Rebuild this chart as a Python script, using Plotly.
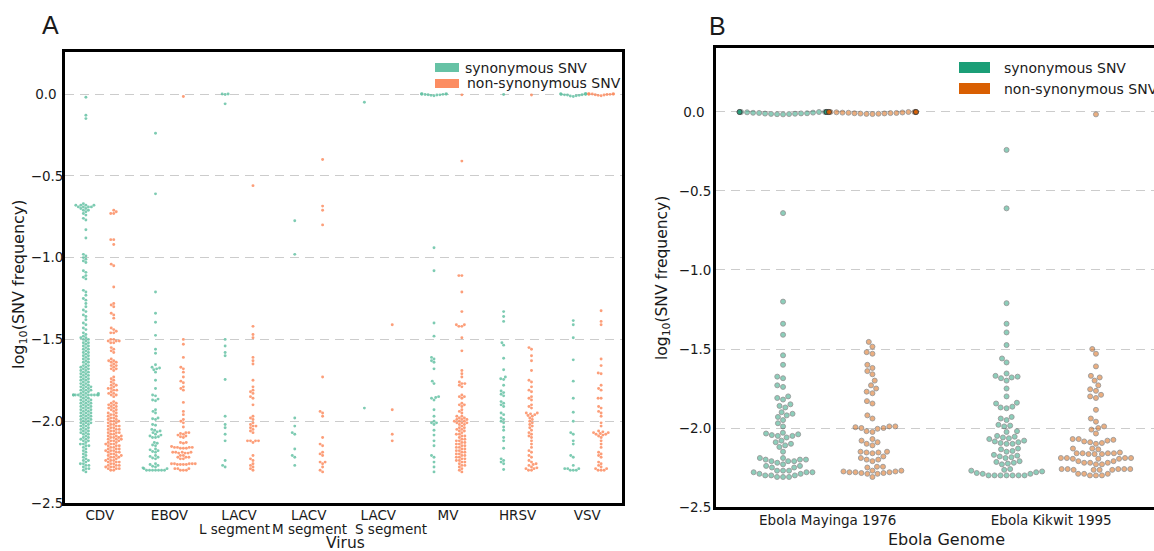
import numpy as np
import plotly.graph_objects as go

# ---------------- data (log10 SNV frequency) ----------------
virus_labels = ["CDV", "EBOV", "LACV", "LACV", "LACV", "MV", "HRSV", "VSV"]
segment_labels = ["L segment", "M segment", "S segment"]
ebola_labels = ["Ebola Mayinga 1976", "Ebola Kikwit 1995"]
ytick_vals = [0.0, -0.5, -1.0, -1.5, -2.0, -2.5]
ytick_text = ["0.0\u2002", "\u22120.5", "\u22121.0", "\u22121.5", "\u22122.0", "\u22122.5"]

cdv_syn = [
    -0.02, -0.13, -0.15,
    -0.67, -0.68, -0.68, -0.68, -0.68, -0.69, -0.69, -0.69, -0.69, -0.70, -0.70, -0.71, -0.71, -0.72, -0.73, -0.74,
    -0.76, -0.77, -0.83, -0.88,
    -0.98, -0.99, -1.00, -1.01, -1.02, -1.03, -1.08, -1.09, -1.11, -1.12, -1.13,
    -1.20, -1.21, -1.23, -1.25, -1.26, -1.28, -1.30, -1.32, -1.33, -1.35, -1.36, -1.38, -1.40, -1.41, -1.43, -1.44,
    -1.46, -1.47, -1.48, -1.49, -1.49, -1.50, -1.50,
    -1.51, -1.52, -1.52, -1.53, -1.54, -1.54, -1.55, -1.56, -1.56, -1.57,
    -1.58, -1.58, -1.59, -1.60, -1.60, -1.61, -1.62, -1.62, -1.63, -1.64, -1.64, -1.65, -1.66, -1.66, -1.67, -1.67,
    -1.68, -1.68, -1.69, -1.69, -1.70, -1.70, -1.71, -1.71, -1.72, -1.72, -1.73, -1.73, -1.74, -1.74, -1.75, -1.75,
    -1.76, -1.76, -1.77, -1.77,
    -1.78, -1.78, -1.79, -1.79, -1.79, -1.80, -1.80, -1.81, -1.81, -1.81, -1.82, -1.82, -1.83, -1.83, -1.83,
    -1.84, -1.84, -1.84, -1.84, -1.84, -1.84, -1.84, -1.84, -1.84, -1.84,
    -1.85, -1.85, -1.86, -1.86, -1.87, -1.87, -1.87, -1.88, -1.88, -1.89, -1.89, -1.89, -1.90, -1.90,
    -1.91, -1.91, -1.91, -1.92, -1.92, -1.93, -1.93, -1.93, -1.94, -1.94, -1.95, -1.95, -1.95, -1.96, -1.96,
    -1.97, -1.97, -1.97, -1.98, -1.98, -1.99, -1.99, -1.99, -2.00, -2.00, -2.01, -2.01, -2.01, -2.02, -2.02,
    -2.03, -2.03, -2.04, -2.04,
    -2.05, -2.05, -2.06, -2.06, -2.07, -2.07, -2.08, -2.08, -2.09, -2.10, -2.10, -2.11, -2.11, -2.12, -2.12,
    -2.13, -2.14, -2.14, -2.15, -2.15,
    -2.16, -2.17, -2.18, -2.19, -2.20, -2.21, -2.22, -2.23,
    -2.24, -2.24, -2.25, -2.26, -2.26, -2.27, -2.27, -2.28, -2.29, -2.29, -2.30, -2.31,
]
cdv_non = [
    -0.71, -0.72, -0.73, -0.73, -0.89, -0.89, -0.92, -1.04, -1.05, -1.18, -1.28, -1.29, -1.30, -1.34, -1.35, -1.37,
    -1.43, -1.44, -1.45, -1.46, -1.46, -1.50, -1.50, -1.51, -1.51, -1.51, -1.52, -1.52, -1.55, -1.56, -1.57, -1.58,
    -1.62, -1.63, -1.63, -1.64, -1.64, -1.65, -1.66, -1.66, -1.67, -1.68, -1.68, -1.69,
    -1.73, -1.74, -1.75, -1.76, -1.77, -1.78, -1.78, -1.79, -1.80, -1.80, -1.81, -1.81, -1.82, -1.83, -1.83,
    -1.84, -1.84, -1.85,
    -1.88, -1.89, -1.89, -1.90, -1.90, -1.91, -1.91, -1.92, -1.92, -1.93, -1.93,
    -1.94, -1.95, -1.95, -1.96, -1.96, -1.97, -1.97, -1.98, -1.98, -1.99, -1.99, -2.00, -2.00, -2.00, -2.01, -2.01,
    -2.02, -2.02, -2.03, -2.03, -2.03, -2.04, -2.04, -2.05, -2.05, -2.05, -2.06, -2.06, -2.07, -2.07, -2.07,
    -2.08, -2.08, -2.09, -2.09, -2.09, -2.10, -2.10, -2.10,
    -2.11, -2.11, -2.11, -2.12, -2.12, -2.12, -2.13, -2.13, -2.14, -2.14, -2.14, -2.15, -2.15, -2.15, -2.16, -2.16,
    -2.17, -2.17, -2.17, -2.18, -2.18, -2.18,
    -2.19, -2.19, -2.19, -2.20, -2.20, -2.21, -2.21, -2.21, -2.22, -2.22, -2.22, -2.23, -2.23, -2.24, -2.24, -2.24,
    -2.25, -2.25, -2.25, -2.26, -2.26, -2.27, -2.27, -2.27, -2.28, -2.28, -2.28, -2.29, -2.29, -2.29, -2.30, -2.30,
]
# Ebola Kikwit 1995 (shown as EBOV in panel A)
kikwit_syn = [
    -0.24, -0.61, -1.21, -1.34, -1.395, -1.475, -1.56, -1.585, -1.655, -1.67, -1.675, -1.68, -1.685, -1.70,
    -1.75, -1.80, -1.84, -1.845, -1.865, -1.87, -1.875, -1.93, -1.94, -1.95, -1.98, -1.985, -1.99, -2.02, -2.025,
    -2.05, -2.055, -2.06, -2.065, -2.07, -2.08, -2.085, -2.09, -2.095, -2.10, -2.10,
    -2.13, -2.135, -2.145, -2.15, -2.17, -2.175, -2.18, -2.185, -2.19,
    -2.21, -2.215, -2.22, -2.225, -2.23, -2.26, -2.265, -2.27, -2.275, -2.28, -2.285, -2.29, -2.29,
    -2.30, -2.30, -2.30, -2.30, -2.30, -2.30, -2.30,
]
kikwit_non = [
    -0.015, -1.50, -1.53, -1.61, -1.67, -1.68, -1.70, -1.73, -1.755, -1.765, -1.79, -1.80, -1.81, -1.885,
    -1.94, -1.96, -1.99, -2.00, -2.01, -2.035,
    -2.07, -2.07, -2.075, -2.08, -2.085, -2.09, -2.095, -2.10, -2.13, -2.13, -2.135,
    -2.155, -2.16, -2.16, -2.16, -2.16, -2.165, -2.165, -2.165,
    -2.19, -2.19, -2.19, -2.19, -2.195, -2.195, -2.195,
    -2.21, -2.21, -2.22, -2.22, -2.22, -2.23, -2.23,
    -2.26, -2.26, -2.26, -2.26, -2.26, -2.265, -2.265, -2.265, -2.265,
    -2.29, -2.29, -2.29, -2.30, -2.30, -2.30,
]
lacvl_syn = [0.0, 0.0, -0.003, -0.06, -1.50, -1.54, -1.58, -1.60, -1.745, -1.97, -2.02, -2.04, -2.08, -2.12,
             -2.24, -2.27, -2.28]
lacvl_non = [-0.56, -1.42, -1.47, -1.49, -1.61, -1.63, -1.65, -1.75, -1.79, -1.81, -1.82, -1.83, -1.85, -1.86,
             -1.90, -1.97, -1.98, -1.99, -2.01, -2.02, -2.03, -2.03, -2.04, -2.05, -2.06, -2.07,
             -2.12, -2.12, -2.12, -2.12, -2.13, -2.21, -2.23, -2.24, -2.26, -2.27, -2.28, -2.29, -2.30]
lacvm_syn = [-0.775, -0.98, -1.98, -2.03, -2.07, -2.08, -2.17, -2.21, -2.22, -2.27]
lacvm_non = [-0.40, -0.685, -0.71, -0.80, -1.73, -1.94, -1.95, -1.97, -2.10, -2.14, -2.15, -2.19, -2.20, -2.21,
             -2.25, -2.25, -2.26, -2.28, -2.30, -2.31]
lacvs_syn = [-0.05, -1.92]
lacvs_non = [-1.41, -1.93, -2.08, -2.12]
mv_syn = [0.0, 0.0, 0.0, 0.0, 0.0, -0.002, -0.003, -0.004, -0.005, -0.006, -0.008, -0.01,
          -0.94, -1.08, -1.40, -1.48, -1.61, -1.62, -1.63, -1.64, -1.68, -1.755, -1.77, -1.85, -1.855, -1.86,
          -1.87, -1.93, -1.97, -2.00, -2.01, -2.01, -2.02, -2.055, -2.085, -2.12, -2.15, -2.21, -2.22, -2.25,
          -2.28, -2.31]
mv_non = [
    -0.005, -0.41, -1.11, -1.11, -1.21, -1.33, -1.41, -1.41, -1.42, -1.42, -1.49, -1.57, -1.69, -1.71, -1.73,
    -1.76, -1.77, -1.77, -1.78, -1.79, -1.84, -1.85, -1.85, -1.86, -1.89, -1.90, -1.90, -1.91, -1.93, -1.94, -1.95,
    -1.97, -1.97, -1.98, -1.98, -1.99, -1.99, -1.99, -2.00, -2.00, -2.00, -2.01, -2.01, -2.01, -2.02, -2.02,
    -2.03, -2.04, -2.04, -2.05, -2.05, -2.06, -2.06, -2.07,
    -2.08, -2.08, -2.09, -2.09, -2.10, -2.11, -2.11, -2.12, -2.12, -2.13, -2.13, -2.14, -2.14, -2.15, -2.15,
    -2.16, -2.16, -2.17, -2.17, -2.18, -2.18,
    -2.19, -2.19, -2.20, -2.20, -2.21, -2.21, -2.22, -2.22, -2.23, -2.23, -2.24, -2.24, -2.25, -2.25,
    -2.26, -2.27, -2.27, -2.28, -2.29, -2.30, -2.31,
]
hrsv_syn = [-0.003, -1.33, -1.36, -1.39, -1.52, -1.535, -1.615, -1.685, -1.73, -1.74, -1.745, -1.78, -1.815,
            -1.825, -1.835, -1.845, -1.88, -1.89, -1.90, -1.91, -1.95, -1.96, -1.98, -1.99, -2.00, -2.01, -2.035,
            -2.055, -2.10, -2.12, -2.165, -2.23, -2.24, -2.25, -2.26, -2.295]
hrsv_non = [-0.006, -1.55, -1.56, -1.60, -1.63, -1.69, -1.75, -1.76, -1.79, -1.81, -1.82, -1.85, -1.86, -1.87,
            -1.90, -1.91, -1.92, -1.95, -1.95, -1.955, -1.96, -1.965, -1.97, -1.98,
            -1.99, -2.00, -2.01, -2.02, -2.03, -2.04, -2.055, -2.07, -2.08, -2.09, -2.10,
            -2.12, -2.14, -2.16, -2.18, -2.19, -2.21, -2.22,
            -2.24, -2.25, -2.26, -2.265, -2.27, -2.28, -2.285, -2.29, -2.29, -2.30, -2.30]
vsv_syn = [0.0, 0.0, 0.0, 0.0, 0.0, 0.0, -0.002, -0.004, -0.005, -0.006, -0.008, -0.01, -0.012, -0.015,
           -1.385, -1.41, -1.49, -1.625, -1.755, -1.86, -1.945, -2.00, -2.07, -2.08, -2.12, -2.14, -2.21, -2.22,
           -2.27, -2.29, -2.29, -2.29, -2.30, -2.30, -2.30]
vsv_non = [0.0, 0.0, 0.0, 0.0, 0.0, 0.0, -0.002, -0.003, -0.004, -0.006, -0.008, -0.01,
           -1.325, -1.39, -1.41, -1.62, -1.66, -1.705, -1.71, -1.78, -1.80, -1.81, -1.86, -1.86, -1.91, -1.92,
           -1.94, -1.95, -1.97, -2.01, -2.03, -2.06, -2.065, -2.07, -2.07, -2.075, -2.08, -2.08, -2.085, -2.09,
           -2.10, -2.12, -2.14, -2.16, -2.19, -2.20, -2.21, -2.22, -2.25, -2.26, -2.27, -2.28, -2.29, -2.29,
           -2.30, -2.30, -2.30]
# Ebola Mayinga 1976 (panel B only)
mayinga_syn = [
    0.0, 0.0, 0.0, 0.0, 0.0, 0.0, 0.0, 0.0, 0.0, 0.0, -0.002, -0.004, -0.005, -0.006, -0.008, -0.009, -0.01,
    -0.011, -0.012, -0.013, -0.014, -0.015,
    -0.64, -1.20, -1.34, -1.41, -1.54, -1.60, -1.675, -1.685, -1.73, -1.74, -1.80, -1.81, -1.82, -1.85, -1.86,
    -1.87, -1.90, -1.91, -1.92, -1.93, -1.95, -1.97, -1.99, -2.03, -2.035, -2.04, -2.045, -2.05, -2.05, -2.06,
    -2.08, -2.09, -2.10, -2.11, -2.12, -2.15, -2.19, -2.19, -2.20, -2.20, -2.20, -2.21, -2.21, -2.21, -2.22,
    -2.23, -2.24, -2.24, -2.25, -2.25, -2.27, -2.27, -2.27, -2.28, -2.28, -2.28, -2.29, -2.29, -2.30, -2.30,
    -2.30, -2.31, -2.31, -2.31,
]
mayinga_non = [
    0.0, 0.0, 0.0, 0.0, 0.0, 0.0, 0.0, 0.0, 0.0, 0.0, -0.002, -0.003, -0.004, -0.005, -0.006, -0.007, -0.008,
    -0.009, -0.01, -0.011, -0.012, -0.013,
    -1.455, -1.485, -1.52, -1.53, -1.60, -1.62, -1.64, -1.66, -1.70, -1.73, -1.75, -1.77, -1.78, -1.83, -1.845,
    -1.92, -1.94, -1.99, -1.99, -1.995, -2.00, -2.00, -2.005, -2.02, -2.025, -2.07, -2.08, -2.09, -2.10, -2.11,
    -2.15, -2.15, -2.155, -2.155, -2.16, -2.18, -2.19, -2.20, -2.20, -2.21, -2.245, -2.245, -2.25,
    -2.27, -2.27, -2.275, -2.275, -2.28, -2.28, -2.28, -2.285, -2.285, -2.29, -2.29, -2.31,
]

groups_a = [(cdv_syn, cdv_non), (kikwit_syn, kikwit_non), (lacvl_syn, lacvl_non), (lacvm_syn, lacvm_non),
            (lacvs_syn, lacvs_non), (mv_syn, mv_non), (hrsv_syn, hrsv_non), (vsv_syn, vsv_non)]
groups_b = [(mayinga_syn, mayinga_non), (kikwit_syn, kikwit_non)]

# ---------------- geometry ----------------
W, H = 1154, 551
A_X0, A_X1, A_Y0, A_Y1 = 65, 622, 52, 503      # plot box A (px)
B_X0, B_Y0, B_Y1 = 716, 48, 507                # plot box B (px)
A_YR = [-2.5, 0.257]
B_YR = [-2.5, 0.405]
A_PXX = (A_X1 - A_X0) / 8.0
A_PXY = (A_Y1 - A_Y0) / (A_YR[1] - A_YR[0])
B_PXX = 223.5
B_XR = [-0.5, -0.5 + (W - B_X0) / B_PXX]
B_PXY = (B_Y1 - B_Y0) / (B_YR[1] - B_YR[0])


def swarm(vals, pxy, d, half):
    """beeswarm offsets (px) for values, seaborn-like placement with gutters"""
    v = np.asarray(vals, float)
    order = np.argsort(v, kind="stable")
    ys = v[order] * pxy
    px, py = [], []
    for y in ys:
        ax = np.array(px); ay = np.array(py)
        if len(ax):
            m = np.abs(ay - y) < d
            nx, ny = ax[m], ay[m]
        else:
            nx = ny = np.array([])
        cands = [0.0]
        if len(nx):
            dx = np.sqrt(np.maximum(d * d - (ny - y) ** 2, 0)) * 1.001
            cands += list(nx - dx) + list(nx + dx)
        cands = sorted(cands, key=abs)
        chosen = cands[-1]
        for c in cands:
            if len(nx) == 0 or np.all((nx - c) ** 2 + (ny - y) ** 2 >= d * d * 0.998):
                chosen = c
                break
        px.append(chosen); py.append(y)
    out = np.zeros(len(v))
    out[order] = np.clip(np.array(px), -half, half)
    return out


def build(groups, pxx, pxy, d, half):
    xs = [[], []]; ys = [[], []]
    for i, pair in enumerate(groups):
        for h, vals in enumerate(pair):
            off = swarm(vals, pxy, d, half) / pxx
            xs[h].extend(list(i + (-0.2 if h == 0 else 0.2) + off))
            ys[h].extend(list(vals))
    return xs, ys


ax_, ay_ = build(groups_a, A_PXX, A_PXY, 3.0, 12.5)
bx_, by_ = build(groups_b, B_PXX, B_PXY, 6.0, 43.5)

FONT = "DejaVu Sans"
TXT = "#1a1a1a"
fig = go.Figure()
for h, col in enumerate(["#66c2a5", "#fc8d62"]):
    fig.add_trace(go.Scatter(x=ax_[h], y=ay_[h], mode="markers", xaxis="x", yaxis="y", showlegend=False,
                             hoverinfo="skip",
                             marker=dict(size=2.9, color=col, opacity=0.85, line=dict(width=0))))
for h, col in enumerate(["#1b9e77", "#d95f02"]):
    fig.add_trace(go.Scatter(x=bx_[h], y=by_[h], mode="markers", xaxis="x2", yaxis="y2", showlegend=False,
                             hoverinfo="skip",
                             marker=dict(size=5.0, color=col, opacity=0.5,
                                         line=dict(width=0.9, color="rgb(55,55,55)"))))


def fx(p):
    return p / W


def fy(p):
    return 1 - p / H


axis_common = dict(showline=True, linecolor="black", linewidth=2.7, ticks="", zeroline=False, automargin=False,
                   tickangle=0, tickfont=dict(family=FONT, size=13.5, color=TXT))
fig.update_layout(
    width=W, height=H, margin=dict(l=0, r=0, t=0, b=0, autoexpand=False), paper_bgcolor="white",
    plot_bgcolor="white", showlegend=False,
    xaxis=dict(domain=[fx(A_X0), fx(A_X1)], range=[-0.5, 7.5], tickvals=list(range(8)), ticktext=virus_labels,
               showgrid=False, mirror=True, anchor="y", ticklabelstandoff=-2, **axis_common),
    yaxis=dict(domain=[fy(A_Y1), fy(A_Y0)], range=A_YR, tickvals=ytick_vals, ticktext=ytick_text,
               showgrid=True, gridcolor="#cccccc", gridwidth=1.3, griddash="9px,6px", mirror=True, anchor="x",
               ticklabelstandoff=-4, **axis_common),
    xaxis2=dict(domain=[fx(B_X0), 1.0], range=B_XR, tickvals=[0, 1], ticktext=ebola_labels,
                showgrid=False, mirror=True, anchor="y2", ticklabelstandoff=-1, **axis_common),
    yaxis2=dict(domain=[fy(B_Y1), fy(B_Y0)], range=B_YR, tickvals=ytick_vals, ticktext=ytick_text,
                showgrid=True, gridcolor="#cccccc", gridwidth=1.3, griddash="9px,6px", mirror=False, anchor="x2",
                ticklabelstandoff=-1, **axis_common),
)

shapes = []
ann = []


def rect(x0, x1, y0, y1, col):
    shapes.append(dict(type="rect", xref="paper", yref="paper", x0=fx(x0), x1=fx(x1), y0=fy(y1), y1=fy(y0),
                       fillcolor=col, line=dict(width=0)))


def text(t, x, y, size, xanchor="left", angle=0, family=FONT):
    ann.append(dict(text=t, x=fx(x), y=fy(y), xref="paper", yref="paper", xanchor=xanchor, yanchor="middle",
                    showarrow=False, textangle=angle, font=dict(family=family, size=size, color=TXT)))


# legends
rect(435, 459, 63, 72, "#66c2a5")
rect(435, 459, 79, 88, "#fc8d62")
text("synonymous SNV", 463, 67.5, 14)
text("non-synonymous SNV", 465, 83.5, 14)
rect(959, 990, 62, 73, "#1b9e77")
rect(959, 990, 83, 94, "#d95f02")
text("synonymous SNV", 1002, 67.5, 14)
text("non-synonymous SNV", 1002, 88.5, 14)
# second line of the LACV tick labels
for lab, xc in zip(segment_labels, [234.5, 309.5, 391.0]):
    text(lab, xc, 529, 13.5, xanchor="center")
# panel letters
text("A", 40, 25, 25, family="Liberation Sans")
text("B", 707, 26, 25, family="Liberation Sans")
# axis titles
text("log<sub>10</sub>(SNV frequency)", 19, 284, 16, xanchor="center", angle=-90)
text("log<sub>10</sub>(SNV frequency)", 663, 278, 15.5, xanchor="center", angle=-90)
text("Virus", 345.5, 543, 15.5, xanchor="center")
text("Ebola Genome", 946, 539, 16, xanchor="center")

fig.update_layout(shapes=shapes, annotations=ann)
fig.write_html("out.html", config={"displayModeBar": False},
               post_script="document.body.style.margin='0px';")
